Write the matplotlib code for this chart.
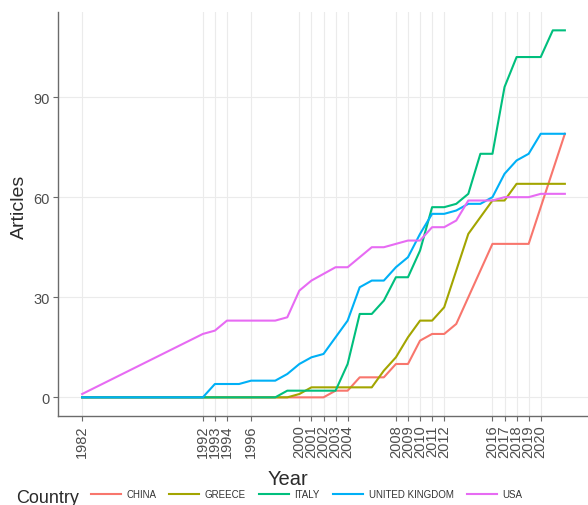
import matplotlib
matplotlib.use("Agg")
import matplotlib.pyplot as plt
from matplotlib.lines import Line2D

plt.rcParams['font.family'] = ['Liberation Sans', 'DejaVu Sans']

years = [1982, 1992, 1993, 1994, 1995, 1996, 1997, 1998, 1999, 2000, 2001,
         2002, 2003, 2004, 2005, 2006, 2007, 2008, 2009, 2010, 2011, 2012,
         2013, 2014, 2015, 2016, 2017, 2018, 2019, 2020, 2021, 2022]

china = [0, 0, 0, 0, 0, 0, 0, 0, 0, 0, 0,
         0, 2, 2, 6, 6, 6, 10, 10, 17, 19, 19,
         22, 30, 38, 46, 46, 46, 46, 57, 68, 79]
greece = [0, 0, 0, 0, 0, 0, 0, 0, 0, 1, 3,
          3, 3, 3, 3, 3, 8, 12, 18, 23, 23, 27,
          38, 49, 54, 59, 59, 64, 64, 64, 64, 64]
italy = [0, 0, 0, 0, 0, 0, 0, 0, 2, 2, 2,
         2, 2, 10, 25, 25, 29, 36, 36, 44, 57, 57,
         58, 61, 73, 73, 93, 102, 102, 102, 110, 110]
uk = [0, 0, 4, 4, 4, 5, 5, 5, 7, 10, 12,
      13, 18, 23, 33, 35, 35, 39, 42, 49, 55, 55,
      56, 58, 58, 60, 67, 71, 73, 79, 79, 79]
usa = [1, 19, 20, 23, 23, 23, 23, 23, 24, 32, 35,
       37, 39, 39, 42, 45, 45, 46, 47, 47, 51, 51,
       53, 59, 59, 59, 60, 60, 60, 61, 61, 61]

countries = ["CHINA", "GREECE", "ITALY", "UNITED KINGDOM", "USA"]
series = [china, greece, italy, uk, usa]
colors = ["#F8766D", "#A3A500", "#00BF7D", "#00B0F6", "#E76BF3"]

xtick_years = [1982, 1992, 1993, 1994, 1996, 2000, 2001, 2002, 2003, 2004,
               2008, 2009, 2010, 2011, 2012, 2016, 2017, 2018, 2019, 2020]
ytick_vals = [0, 30, 60, 90]

W, H = 588, 506
fig = plt.figure(figsize=(W / 100, H / 100), dpi=100)
left, right, top, bottom = 58, 589, 13, 416.7
ax = fig.add_axes([left / W, (H - bottom) / H, (right - left) / W, (bottom - top) / H])

for name, vals, c in zip(countries, series, colors):
    ax.plot(years, vals, color=c, lw=1.5, label=name, solid_joinstyle='round')

ax.set_xlim(1980, 2024)
ax.set_ylim(-5.5, 115.5)
ax.set_xticks(xtick_years)
ax.set_xticklabels([str(y) for y in xtick_years], rotation=90, fontsize=10.5, color='#4D4D4D')
ax.set_yticks(ytick_vals)
ax.set_yticklabels([str(v) for v in ytick_vals], fontsize=10.5, color='#4D4D4D')
ax.grid(True, color='#EBEBEB', lw=0.8)
ax.set_axisbelow(True)
for s in ['top', 'right']:
    ax.spines[s].set_visible(False)
for s in ['left', 'bottom']:
    ax.spines[s].set_color('#6B6B6B')
    ax.spines[s].set_linewidth(1.0)
ax.tick_params(axis='both', length=3.5, width=0.8, color='#6B6B6B', pad=2.5)

ax.set_xlabel('Year', fontsize=14.5, color='#2B2B2B')
ax.xaxis.set_label_coords((288 - left) / (right - left), (bottom - 480) / (bottom - top))
ax.xaxis.label.set_va('center')
ax.set_ylabel('Articles', fontsize=14, color='#2B2B2B')
ax.yaxis.set_label_coords((19 - left) / (right - left), (bottom - 207) / (bottom - top))
ax.yaxis.label.set_va('center')

fig.text(16 / W, (H - 503) / H, 'Country', fontsize=13, color='#2B2B2B', va='baseline', ha='left')
handles = [Line2D([0], [0], color=c, lw=1.5) for c in colors]
fig.legend(handles, countries, loc='center left', bbox_to_anchor=(90.7 / W, (H - 495) / H),
           ncol=5, frameon=False, fontsize=7, handlelength=3.1, handletextpad=0.55,
           columnspacing=1.35, borderpad=0, borderaxespad=0, labelcolor='#333333')

fig.savefig('out.png', dpi=100)
